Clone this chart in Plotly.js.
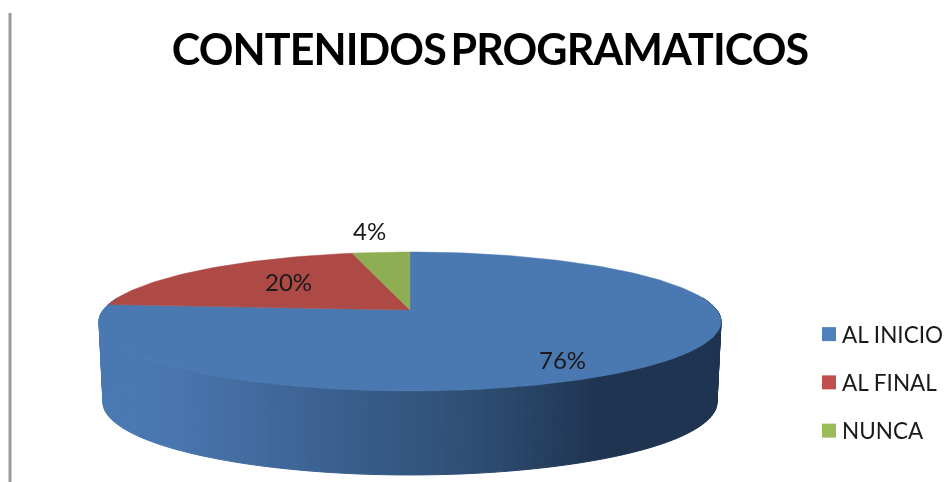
<!DOCTYPE html>
<html><head><meta charset="utf-8">
<script src="https://cdn.plot.ly/plotly-3.0.1.min.js"></script>
<style>html,body{margin:0;padding:0;background:#fff}#c{width:945px;height:482px;filter:blur(0.4px)}
.gtitle{letter-spacing:-0.9px;word-spacing:-5px}</style>
</head><body><div id="c"></div>
<script>
const categories = ["AL INICIO", "AL FINAL", "NUNCA"];
const shares = [76.3, 20.2, 3.5];
const topColors = ["#4A79B2", "#AE4A46", "#8DAE53"];
const legendColors = ["#4F81BD", "#C0504D", "#9BBB59"];
const labelAnchors = [[562, 359], [288, 281], [369, 230]];
const chartTitle = "CONTENIDOS PROGRAMATICOS";

const FONT = "Lato, Carlito, Calibri, sans-serif";
const CX = 410, CY = 310, B = 306.8, A = 67.6, K = 0.165;
const total = shares.reduce((a, b) => a + b, 0);

function rim(t) {
  const u = Math.sin(t), v = -Math.cos(t), d = 1 - K * v;
  return [CX + B * u / d, CY + A * v / d, v];
}
function floor(t) {
  const p = rim(t);
  return [CX + (p[0] - CX) * 0.987, p[1] + 80 + 4 * Math.max(0, p[2])];
}
const stops = [[100, [74,121,178]], [170, [73,118,175]], [250, [67,107,159]], [420, [51,85,127]], [500, [44,74,110]], [600, [31,52,80]], [725, [31,52,80]]];
function wallColor(x) {
  for (let i = 1; i < stops.length; i++) {
    if (x <= stops[i][0]) {
      const a = stops[i - 1], b = stops[i], f = Math.max(0, (x - a[0]) / (b[0] - a[0]));
      return "rgb(" + a[1].map((c, j) => Math.round(c + (b[1][j] - c) * f)).join(",") + ")";
    }
  }
  return "rgb(31,52,80)";
}

const traces = [];
// side wall, painted as narrow strips along the front of the disc
const N = 120, t0 = Math.PI * 0.44, t1 = Math.PI * 1.56;
for (let i = 0; i < N; i++) {
  const a = t1 + (t0 - t1) * i / N, b = t1 + (t0 - t1) * (i + 1) / N;
  const p = rim(a), q = rim(b), r = floor(b), s = floor(a);
  const col = wallColor((p[0] + q[0]) / 2);
  traces.push({x: [p[0], q[0], r[0], s[0], p[0]], y: [p[1], q[1], r[1], s[1], p[1]],
    mode: "lines", fill: "toself", fillcolor: col, line: {color: col, width: 1},
    showlegend: false, hoverinfo: "skip"});
}
// top face: one sector per category, clockwise from twelve o'clock
let acc = 0;
shares.forEach((v, i) => {
  const a0 = acc / total * 2 * Math.PI; acc += v;
  const a1 = acc / total * 2 * Math.PI;
  const xs = [CX], ys = [CY], n = Math.max(8, Math.ceil(v * 3));
  for (let j = 0; j <= n; j++) { const p = rim(a0 + (a1 - a0) * j / n); xs.push(p[0]); ys.push(p[1]); }
  xs.push(CX); ys.push(CY);
  traces.push({x: xs, y: ys, mode: "lines", fill: "toself", fillcolor: topColors[i],
    line: {color: topColors[i], width: 0.5}, showlegend: false, name: categories[i], hoverinfo: "name"});
});
// legend entries
categories.forEach((c, i) => traces.push({x: [null], y: [null], mode: "markers", name: c,
  legendgroup: c, marker: {symbol: "square", size: 14, color: legendColors[i]}}));

const annotations = shares.map((v, i) => ({x: labelAnchors[i][0], y: labelAnchors[i][1],
  xref: "x", yref: "y", text: Math.round(v) + "%", showarrow: false,
  font: {family: FONT, size: 24, color: "#1a1a1a"}}));

Plotly.newPlot("c", traces, {
  width: 945, height: 482, margin: {l: 0, r: 0, t: 0, b: 0, autoexpand: false},
  paper_bgcolor: "#fff", plot_bgcolor: "#fff",
  title: {text: "<b>" + chartTitle + "</b>", font: {family: FONT, size: 43, color: "#000"},
    x: 490 / 945, xanchor: "center", y: 1 - 50 / 482, yanchor: "middle"},
  xaxis: {range: [0, 945], visible: false, fixedrange: true},
  yaxis: {range: [482, 0], visible: false, fixedrange: true},
  showlegend: true,
  legend: {x: 802 / 945, xanchor: "left", y: 1 - 313 / 482, yanchor: "top", yref: "paper",
    font: {family: FONT, size: 22.5, color: "#1a1a1a"}, tracegroupgap: 16,
    bgcolor: "rgba(0,0,0,0)", itemclick: false, itemdoubleclick: false},
  annotations,
  shapes: [{type: "line", xref: "x", yref: "y", x0: 10, x1: 10, y0: 13, y1: 482,
    line: {color: "#9a9a9a", width: 3}}]
}, {displayModeBar: false, staticPlot: true}).then(() => {
  document.querySelectorAll(".legendsymbols").forEach(g => g.setAttribute("transform", "translate(7,0)"));
});
</script></body></html>
